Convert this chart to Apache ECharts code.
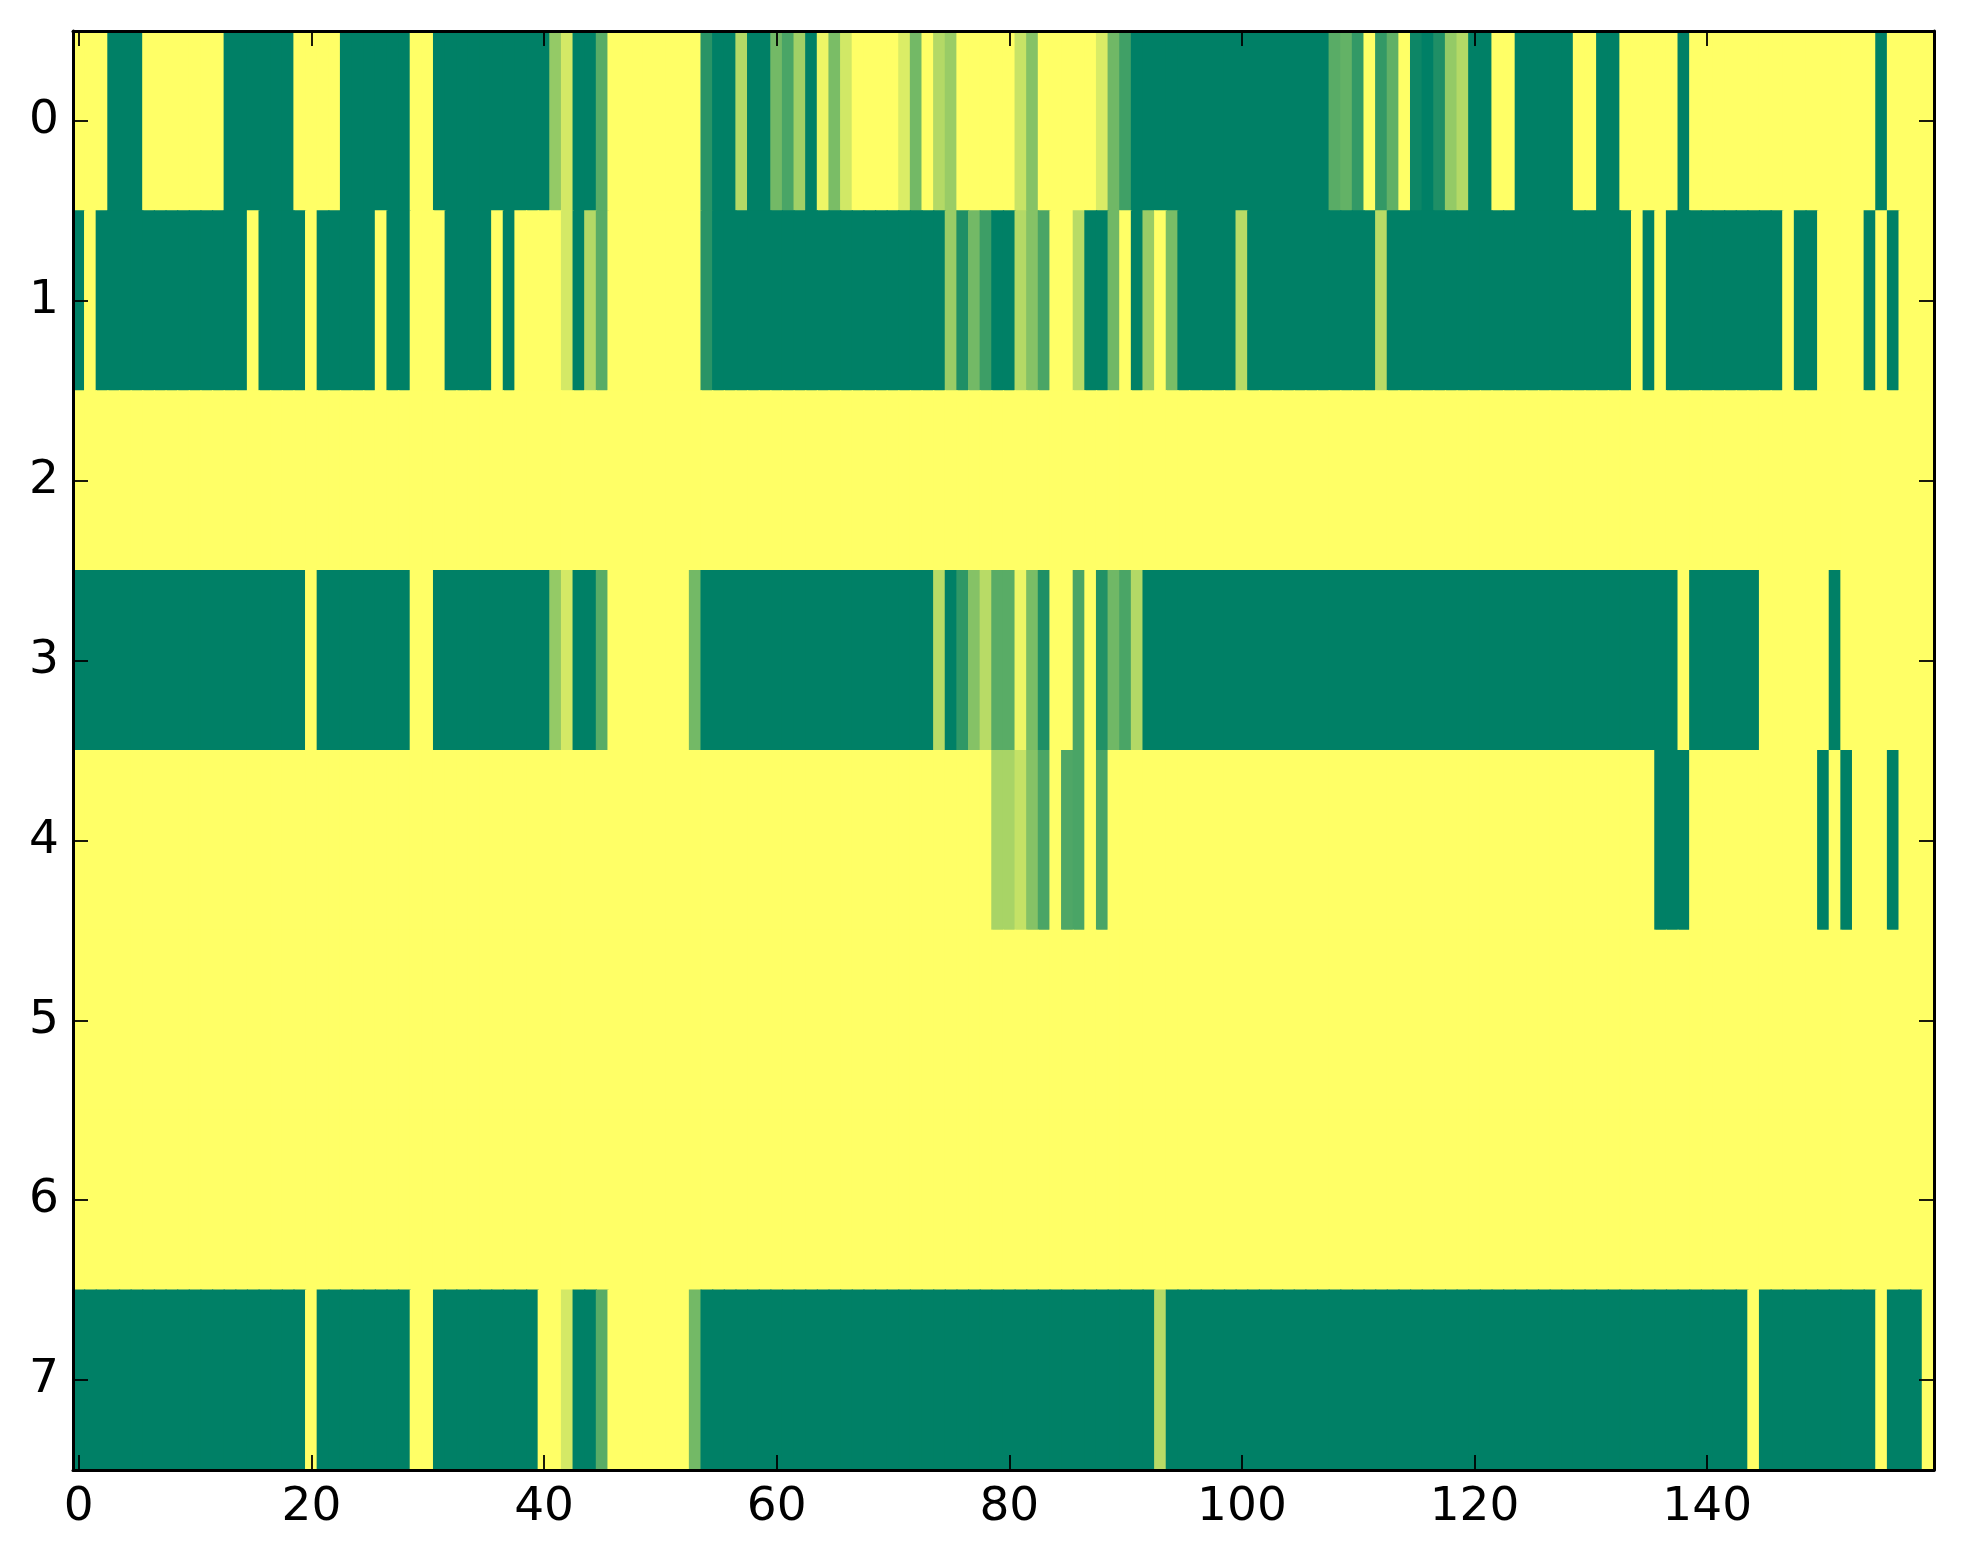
<!DOCTYPE html>
<html><head><meta charset="utf-8">
<script src="https://cdn.jsdelivr.net/npm/echarts@6/dist/echarts.min.js"></script>
<style>html,body{margin:0;padding:0;background:#fff}#c{width:1963px;height:1564px}</style>
</head><body><div id="c"></div><script>
// Heatmap rows (value 0 = yellow, 1 = dark green), 160 columns each
const row0 = [
  0,0,0,1,1,1,0,0,0,0,0,0,0,1,1,1,1,1,1,0,
  0,0,0,1,1,1,1,1,1,0,0,1,1,1,1,1,1,1,1,1,
  1,0.42,0.17,1,1,0.65,0,0,0,0,0,0,0,0,0.84,1,1,0.3,1,1,
  0.55,0.71,0.37,1,0.07,0.52,0.18,0,0,0,0,0.14,0.55,0,0.3,0.4,0,0,0,0,
  0,0.22,0.48,0,0,0,0,0,0.15,0.56,0.75,1,1,1,1,1,1,1,1,1,
  1,1,1,1,1,1,1,1,0.65,0.61,0.8,0,0.8,0.62,0,0.95,1,0.88,0.42,0.3,
  1,1,0,0,1,1,1,1,1,0,0,1,1,0,0,0,0,0,1,0,
  0,0,0,0,0,0,0,0,0,0,0,0,0,0,0,1,0,0,0,0
];
const row1 = [
  1,0,1,1,1,1,1,1,1,1,1,1,1,1,1,0,1,1,1,1,
  0,1,1,1,1,1,0,1,1,0,0,0,1,1,1,1,0,1,0,0,
  0,0,0.17,1,0.3,0.65,0,0,0,0,0,0,0,0,0.84,1,1,1,1,1,
  1,1,1,1,1,1,1,1,1,1,1,1,1,1,1,0.4,0.88,0.55,0.76,1,
  1,0.3,0.48,0.71,0,0,0.28,1,1,0.56,0,1,0.4,0,0.52,1,1,1,1,1,
  0.28,1,1,1,1,1,1,1,1,1,1,1,0.28,1,1,1,1,1,1,1,
  1,1,1,1,1,1,1,1,1,1,1,1,1,1,0,1,0,1,1,1,
  1,1,1,1,1,1,1,0,1,1,0,0,0,0,1,0,1,0,0,0
];
const row2 = [
  0,0,0,0,0,0,0,0,0,0,0,0,0,0,0,0,0,0,0,0,
  0,0,0,0,0,0,0,0,0,0,0,0,0,0,0,0,0,0,0,0,
  0,0,0,0,0,0,0,0,0,0,0,0,0,0,0,0,0,0,0,0,
  0,0,0,0,0,0,0,0,0,0,0,0,0,0,0,0,0,0,0,0,
  0,0,0,0,0,0,0,0,0,0,0,0,0,0,0,0,0,0,0,0,
  0,0,0,0,0,0,0,0,0,0,0,0,0,0,0,0,0,0,0,0,
  0,0,0,0,0,0,0,0,0,0,0,0,0,0,0,0,0,0,0,0,
  0,0,0,0,0,0,0,0,0,0,0,0,0,0,0,0,0,0,0,0
];
const row3 = [
  1,1,1,1,1,1,1,1,1,1,1,1,1,1,1,1,1,1,1,1,
  0,1,1,1,1,1,1,1,1,0,0,1,1,1,1,1,1,1,1,1,
  1,0.42,0.17,1,1,0.65,0,0,0,0,0,0,0,0.55,1,1,1,1,1,1,
  1,1,1,1,1,1,1,1,1,1,1,1,1,1,0.28,1,0.81,0.48,0.28,0.65,
  0.65,0.07,0.52,0.88,0,0,0.71,0,0.87,0.56,0.71,0.3,1,1,1,1,1,1,1,1,
  1,1,1,1,1,1,1,1,1,1,1,1,1,1,1,1,1,1,1,1,
  1,1,1,1,1,1,1,1,1,1,1,1,1,1,1,1,1,1,0,1,
  1,1,1,1,1,0,0,0,0,0,0,1,0,0,0,0,0,0,0,0
];
const row4 = [
  0,0,0,0,0,0,0,0,0,0,0,0,0,0,0,0,0,0,0,0,
  0,0,0,0,0,0,0,0,0,0,0,0,0,0,0,0,0,0,0,0,
  0,0,0,0,0,0,0,0,0,0,0,0,0,0,0,0,0,0,0,0,
  0,0,0,0,0,0,0,0,0,0,0,0,0,0,0,0,0,0,0,0.34,
  0.34,0.23,0.48,0.71,0,0.69,0.71,0,0.71,0,0,0,0,0,0,0,0,0,0,0,
  0,0,0,0,0,0,0,0,0,0,0,0,0,0,0,0,0,0,0,0,
  0,0,0,0,0,0,0,0,0,0,0,0,0,0,0,0,1,1,1,0,
  0,0,0,0,0,0,0,0,0,0,1,0,1,0,0,0,1,0,0,0
];
const row5 = [
  0,0,0,0,0,0,0,0,0,0,0,0,0,0,0,0,0,0,0,0,
  0,0,0,0,0,0,0,0,0,0,0,0,0,0,0,0,0,0,0,0,
  0,0,0,0,0,0,0,0,0,0,0,0,0,0,0,0,0,0,0,0,
  0,0,0,0,0,0,0,0,0,0,0,0,0,0,0,0,0,0,0,0,
  0,0,0,0,0,0,0,0,0,0,0,0,0,0,0,0,0,0,0,0,
  0,0,0,0,0,0,0,0,0,0,0,0,0,0,0,0,0,0,0,0,
  0,0,0,0,0,0,0,0,0,0,0,0,0,0,0,0,0,0,0,0,
  0,0,0,0,0,0,0,0,0,0,0,0,0,0,0,0,0,0,0,0
];
const row6 = [
  0,0,0,0,0,0,0,0,0,0,0,0,0,0,0,0,0,0,0,0,
  0,0,0,0,0,0,0,0,0,0,0,0,0,0,0,0,0,0,0,0,
  0,0,0,0,0,0,0,0,0,0,0,0,0,0,0,0,0,0,0,0,
  0,0,0,0,0,0,0,0,0,0,0,0,0,0,0,0,0,0,0,0,
  0,0,0,0,0,0,0,0,0,0,0,0,0,0,0,0,0,0,0,0,
  0,0,0,0,0,0,0,0,0,0,0,0,0,0,0,0,0,0,0,0,
  0,0,0,0,0,0,0,0,0,0,0,0,0,0,0,0,0,0,0,0,
  0,0,0,0,0,0,0,0,0,0,0,0,0,0,0,0,0,0,0,0
];
const row7 = [
  1,1,1,1,1,1,1,1,1,1,1,1,1,1,1,1,1,1,1,1,
  0,1,1,1,1,1,1,1,1,0,0,1,1,1,1,1,1,1,1,1,
  0,0,0.17,1,1,0.65,0,0,0,0,0,0,0,0.55,1,1,1,1,1,1,
  1,1,1,1,1,1,1,1,1,1,1,1,1,1,1,1,1,1,1,1,
  1,1,1,1,1,1,1,1,1,1,1,1,1,0.28,1,1,1,1,1,1,
  1,1,1,1,1,1,1,1,1,1,1,1,1,1,1,1,1,1,1,1,
  1,1,1,1,1,1,1,1,1,1,1,1,1,1,1,1,1,1,1,1,
  1,1,1,1,0,1,1,1,1,1,1,1,1,1,1,0,1,1,1,0
];
const rows = [row0, row1, row2, row3, row4, row5, row6, row7];
const xCategories = row0.map((_, i) => String(i));
const yCategories = ['0', '1', '2', '3', '4', '5', '6', '7'];

const data = [];
rows.forEach((r, y) => r.forEach((v, x) => data.push([x, y, v])));

const FONT = 'DejaVu Sans';
const axisLine = { show: true, lineStyle: { color: '#000', width: 3 } };
const tickStyle = { color: '#000', width: 1.8 };

const chart = echarts.init(document.getElementById('c'));
chart.setOption({
  animation: false,
  backgroundColor: '#fff',
  grid: { left: 73, right: 29, top: 31, bottom: 94 },
  xAxis: [
    { type: 'category', data: xCategories, position: 'bottom', z: 10,
      axisLine: axisLine,
      axisTick: { show: true, inside: true, length: 15, interval: 19, alignWithLabel: true, lineStyle: tickStyle },
      axisLabel: { interval: 19, fontSize: 47, color: '#000', fontFamily: FONT, margin: 14 },
      splitLine: { show: false } },
    { type: 'category', data: xCategories, position: 'top', z: 10,
      axisLine: axisLine,
      axisTick: { show: true, inside: true, length: 15, interval: 19, alignWithLabel: true, lineStyle: tickStyle },
      axisLabel: { show: false }, splitLine: { show: false } }
  ],
  yAxis: [
    { type: 'category', data: yCategories, inverse: true, position: 'left', z: 10,
      axisLine: axisLine,
      axisTick: { show: true, inside: true, length: 15, alignWithLabel: true, lineStyle: tickStyle },
      axisLabel: { fontSize: 47, color: '#000', fontFamily: FONT, margin: 14 },
      splitLine: { show: false } },
    { type: 'category', data: yCategories, inverse: true, position: 'right', z: 10,
      axisLine: axisLine,
      axisTick: { show: true, inside: true, length: 15, alignWithLabel: true, lineStyle: tickStyle },
      axisLabel: { show: false }, splitLine: { show: false } }
  ],
  visualMap: { show: false, min: 0, max: 1, dimension: 2, seriesIndex: 0,
    inRange: { color: ['#ffff66', '#008066'] } },
  series: [{
    type: 'custom', data: data, xAxisIndex: 0, yAxisIndex: 0,
    encode: { x: 0, y: 1 }, clip: true,
    renderItem: function (params, api) {
      const c = api.coord([api.value(0), api.value(1)]);
      const s = api.size([1, 1]);
      const col = api.visual('color');
      return {
        type: 'rect',
        shape: { x: c[0] - s[0] / 2 - 0.6, y: c[1] - s[1] / 2 - 0.6, width: s[0] + 1.2, height: s[1] + 1.2 },
        style: { fill: col, stroke: null }
      };
    }
  }]
});
</script></body></html>
